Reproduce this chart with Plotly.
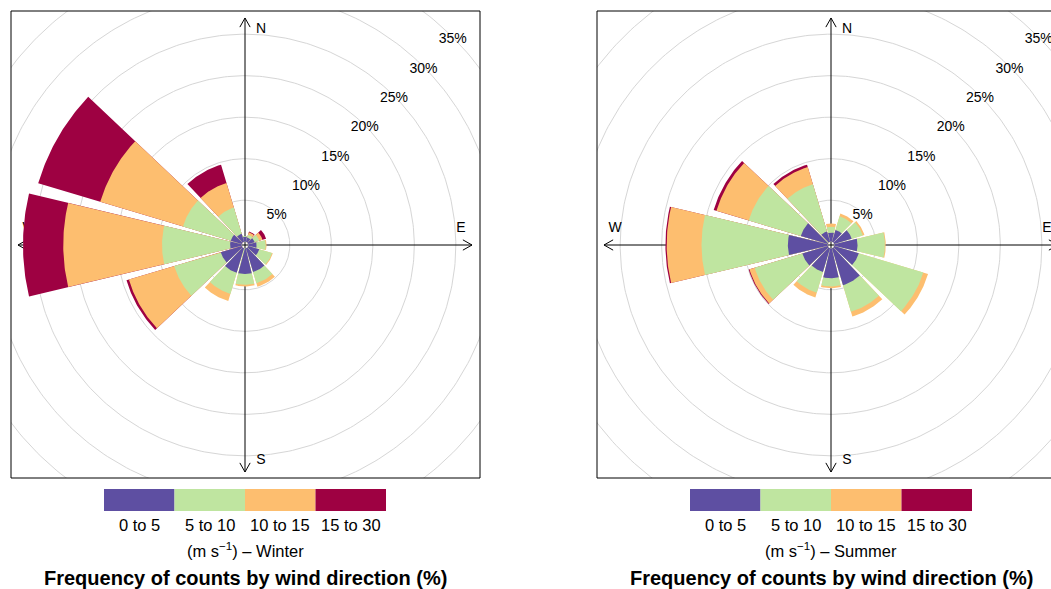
import numpy as np
import plotly.graph_objects as go

# ---------------- data ----------------
directions = [0, 30, 60, 90, 120, 150, 180, 210, 240, 270, 300, 330]
speed_bins = ["0 to 5", "5 to 10", "10 to 15", "15 to 30"]
bin_colors = ["#5E4FA2", "#BFE5A0", "#FDBE6F", "#9E0142"]

# frequency (%) of each speed interval by direction
winter_0_5 = [0.6, 0.55, 0.8, 1.0, 1.4, 3.0, 3.1, 3.1, 2.65, 1.4, 1.4, 1.0]
winter_5_10 = [0.1, 0.35, 0.6, 1.1, 1.6, 1.4, 1.3, 2.65, 5.85, 8.2, 6.0, 3.3]
winter_10_15 = [0.0, 0.3, 0.4, 0.1, 0.1, 0.45, 0.2, 0.9, 5.7, 11.9, 10.4, 3.1]
winter_15_30 = [0.0, 0.1, 0.45, 0.0, 0.0, 0.0, 0.0, 0.0, 0.3, 4.85, 7.8, 2.3]

summer_0_5 = [1.1, 1.5, 2.2, 2.8, 3.1, 4.65, 3.6, 3.0, 3.2, 4.8, 3.4, 1.3]
summer_5_10 = [0.7, 1.7, 1.4, 3.3, 8.1, 3.35, 1.0, 2.6, 6.0, 10.4, 6.55, 5.95]
summer_10_15 = [0.4, 0.35, 0.2, 0.1, 0.6, 0.6, 0.2, 0.6, 0.65, 4.2, 4.05, 2.15]
summer_15_30 = [0.0, 0.0, 0.0, 0.0, 0.0, 0.0, 0.0, 0.0, 0.1, 0.15, 0.35, 0.3]

seasons = ["Winter", "Summer"]
grid_levels = [5, 10, 15, 20, 25, 30, 35]
grid_labels = ["5%", "10%", "15%", "20%", "25%", "30%", "35%"]
compass_labels = ["N", "E", "S", "W"]
compass_angles = [0, 90, 180, 270]
title_text = "Frequency of counts by wind direction (%)"
units_text = "(m s<sup>\u22121</sup>) \u2013 "

season_data = {
    "Winter": [winter_0_5, winter_5_10, winter_10_15, winter_15_30],
    "Summer": [summer_0_5, summer_5_10, summer_10_15, summer_15_30],
}

# ---------------- geometry / style ----------------
W, H = 1051, 589
K = 8.3          # pixels per percent
OFF = 0.4        # centre hole (percent units)
HALF = 13.4      # half angular width of a wedge (deg)
ARROW_LEN = 27.35
CY = 245
BOX_Y = (11, 478)
panels = [
    dict(season="Winter", cx=245, box_x=(11, 480), right_border=True),
    dict(season="Summer", cx=831, box_x=(597, 1051), right_border=False),
]
FONT = "Liberation Sans, Arial, sans-serif"


def px(x):
    return x / W


def py(y):
    return 1 - y / H


fig = go.Figure()
shapes = []
annotations = []

for i, p in enumerate(panels):
    xa = "x" if i == 0 else "x2"
    ya = "y" if i == 0 else "y2"
    cx = p["cx"]
    x0, x1 = p["box_x"]
    y0, y1 = BOX_Y

    # grid circles
    t = np.linspace(0, 2 * np.pi, 361)
    gx, gy = [], []
    for lev in grid_levels:
        r = lev + OFF
        gx += list(r * np.sin(t)) + [None]
        gy += list(r * np.cos(t)) + [None]
    fig.add_trace(go.Scatter(x=gx, y=gy, mode="lines", xaxis=xa, yaxis=ya,
                             line=dict(color="#D6D6D6", width=1),
                             hoverinfo="skip", showlegend=False))

    # axis arrows
    ax_x, ax_y = [], []
    for ang in compass_angles:
        a = np.radians(ang)
        ux, uy = np.sin(a), np.cos(a)
        vx, vy = -uy, ux
        tipx, tipy = ARROW_LEN * ux, ARROW_LEN * uy
        ax_x += [0, tipx, None]
        ax_y += [0, tipy, None]
        bx, by = tipx - 1.1 * ux, tipy - 1.1 * uy
        ax_x += [bx + 0.62 * vx, tipx, bx - 0.62 * vx, None]
        ax_y += [by + 0.62 * vy, tipy, by - 0.62 * vy, None]
    fig.add_trace(go.Scatter(x=ax_x, y=ax_y, mode="lines", xaxis=xa, yaxis=ya,
                             line=dict(color="black", width=1),
                             hoverinfo="skip", showlegend=False))

    # compass letters (beneath bars): N/S to the right of the arrow, E/W above
    lx = [1.93, 26.0, 1.93, -26.0]
    ly = [26.0, 1.93, -26.0, 1.93]
    fig.add_trace(go.Scatter(x=lx, y=ly, mode="text", text=compass_labels,
                             xaxis=xa, yaxis=ya,
                             textfont=dict(family=FONT, size=14, color="black"),
                             hoverinfo="skip", showlegend=False))

    # percentage labels along 45 degrees
    c45 = np.cos(np.radians(45))
    fig.add_trace(go.Scatter(x=[(l + OFF) * c45 for l in grid_levels],
                             y=[(l + OFF) * c45 - 0.3 for l in grid_levels],
                             mode="text", text=grid_labels, xaxis=xa, yaxis=ya,
                             textfont=dict(family=FONT, size=14, color="black"),
                             hoverinfo="skip", showlegend=False))

    # wedges: cumulative sectors, largest first
    data = season_data[p["season"]]
    cum = np.cumsum(np.array(data), axis=0)
    for k in range(len(speed_bins) - 1, -1, -1):
        wx, wy = [], []
        for j, d in enumerate(directions):
            if data[k][j] <= 0:
                continue
            th = np.radians(np.linspace(d - HALF, d + HALF, 40))
            ro = cum[k][j] + OFF
            ri = OFF
            xs = list(ro * np.sin(th)) + list(ri * np.sin(th[::-1]))
            ys = list(ro * np.cos(th)) + list(ri * np.cos(th[::-1]))
            wx += xs + [xs[0], None]
            wy += ys + [ys[0], None]
        fig.add_trace(go.Scatter(x=wx, y=wy, mode="lines", fill="toself",
                                 fillcolor=bin_colors[k],
                                 line=dict(width=0, color=bin_colors[k]),
                                 xaxis=xa, yaxis=ya, hoverinfo="skip",
                                 showlegend=False))

    # axes
    xr = [(x0 - cx) / K, (x1 - cx) / K]
    yr = [(CY - y1) / K, (CY - y0) / K]
    axis_style = dict(visible=False, showgrid=False, zeroline=False, fixedrange=True)
    fig.update_layout(**{
        ("xaxis" if i == 0 else "xaxis2"): dict(domain=[px(x0), px(x1)], range=xr,
                                                 anchor=ya, **axis_style),
        ("yaxis" if i == 0 else "yaxis2"): dict(domain=[py(y1), py(y0)], range=yr,
                                                 anchor=xa, **axis_style),
    })

    # panel border
    line = dict(color="black", width=1)
    shapes.append(dict(type="line", xref="paper", yref="paper",
                       x0=px(x0), x1=px(x1), y0=py(y0), y1=py(y0), line=line))
    shapes.append(dict(type="line", xref="paper", yref="paper",
                       x0=px(x0), x1=px(x1), y0=py(y1), y1=py(y1), line=line))
    shapes.append(dict(type="line", xref="paper", yref="paper",
                       x0=px(x0), x1=px(x0), y0=py(y0), y1=py(y1), line=line))
    if p["right_border"]:
        shapes.append(dict(type="line", xref="paper", yref="paper",
                           x0=px(x1), x1=px(x1), y0=py(y0), y1=py(y1), line=line))

    # colour key
    kx0 = cx - 141
    seg = 70.5
    for k, lab in enumerate(speed_bins):
        shapes.append(dict(type="rect", xref="paper", yref="paper",
                           x0=px(kx0 + k * seg), x1=px(kx0 + (k + 1) * seg),
                           y0=py(511), y1=py(489), line=dict(width=0),
                           fillcolor=bin_colors[k]))
        annotations.append(dict(xref="paper", yref="paper",
                                x=px(kx0 + (k + 0.5) * seg), y=py(525),
                                text=lab, showarrow=False, xanchor="center",
                                yanchor="middle",
                                font=dict(family=FONT, size=16.5, color="black")))
    annotations.append(dict(xref="paper", yref="paper", x=px(cx), y=py(550),
                            text=units_text + p["season"], showarrow=False,
                            xanchor="center", yanchor="middle",
                            font=dict(family=FONT, size=16.5, color="black")))
    annotations.append(dict(xref="paper", yref="paper", x=px(cx), y=py(578),
                            text="<b>" + title_text + "</b>", showarrow=False,
                            xanchor="center", yanchor="middle",
                            font=dict(family=FONT, size=20, color="black")))

fig.update_layout(width=W, height=H, margin=dict(l=0, r=0, t=0, b=0),
                  paper_bgcolor="white", plot_bgcolor="white",
                  shapes=shapes, annotations=annotations, showlegend=False)

fig.write_html("out.html", config={"displayModeBar": False},
               post_script="document.body.style.margin='0';"
                           "document.body.style.overflow='hidden';")
